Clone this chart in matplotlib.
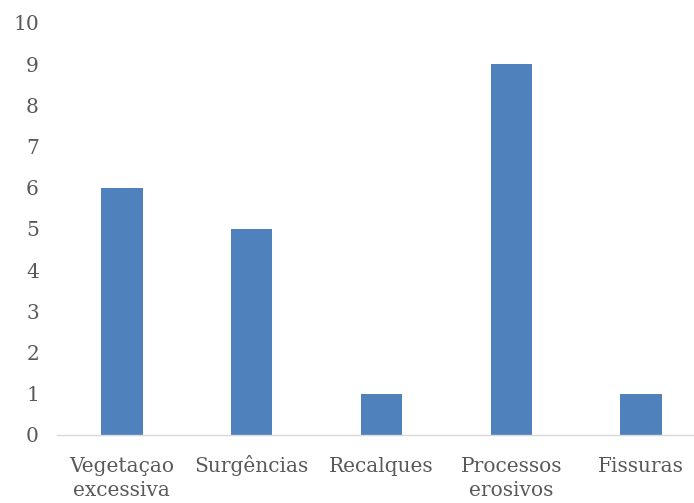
import matplotlib
matplotlib.use("Agg")
import matplotlib.pyplot as plt
import numpy as np

categorias = ["Vegetaçao\nexcessiva", "Surgências", "Recalques", "Processos\nerosivos", "Fissuras"]
ocorrencias = [6, 5, 1, 9, 1]
yticks = [0, 1, 2, 3, 4, 5, 6, 7, 8, 9, 10]

plt.rcParams['font.family'] = ['DejaVu Serif']
cor_texto = '#595959'

fig = plt.figure(figsize=(6.94, 5.03), dpi=100)
ax = fig.add_axes([57/694, 68/503, 649/694, 412/503])

x = np.arange(len(categorias))
ax.bar(x, ocorrencias, width=0.32, color='#4F81BD', zorder=2)

ax.set_xlim(-0.5, len(categorias) - 0.5)
ax.set_ylim(0, 10)
ax.set_yticks(yticks)
ax.set_xticks(x)
ax.set_xticklabels([])
# rótulos das categorias alinhados pela linha de base da primeira linha
for xi, nome in zip(x, categorias):
    linhas = nome.split("\n")
    for k, linha in enumerate(linhas):
        ax.annotate(linha, xy=(xi, 0), xycoords=('data', 'axes fraction'),
                    xytext=(0, -27 - k * 17), textcoords='offset points',
                    ha='center', va='baseline', fontsize=14.5, color=cor_texto)
ax.tick_params(axis='y', labelsize=14.5, labelcolor=cor_texto, length=0, pad=13)
ax.tick_params(axis='x', length=0)

for lado in ['top', 'right', 'left']:
    ax.spines[lado].set_visible(False)
ax.spines['bottom'].set_color('#D9D9D9')
ax.spines['bottom'].set_linewidth(1.0)

fig.savefig("out.png", dpi=100)
